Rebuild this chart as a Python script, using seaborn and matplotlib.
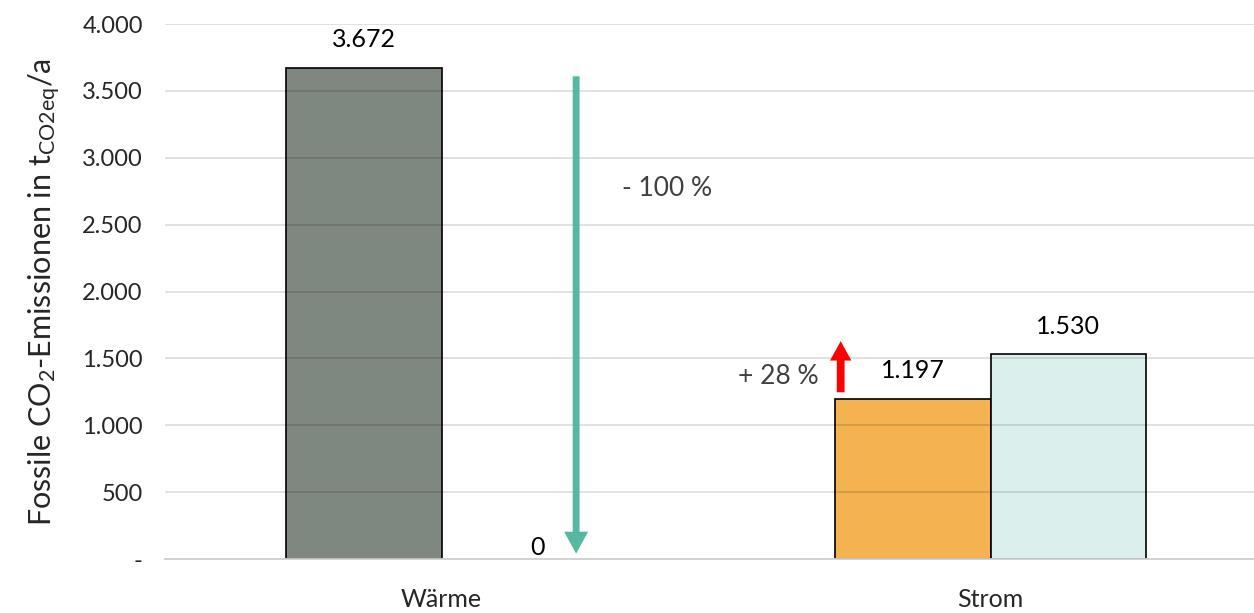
import matplotlib
matplotlib.use("Agg")
import matplotlib.pyplot as plt
import matplotlib.ticker as mticker
from matplotlib.patches import FancyArrowPatch
import pandas as pd
import seaborn as sns

# Emissions per sector, current state vs. scenario
categories = ["Wärme", "Strom"]
scenarios = ["Bestand", "Szenario"]
values_bestand = [3672, 1197]
values_szenario = [0, 1530]

bar_colors = {
    ("Wärme", "Bestand"): "#7f8781",
    ("Wärme", "Szenario"): "#7f8781",
    ("Strom", "Bestand"): "#f4b350",
    ("Strom", "Szenario"): "#dbefec",
}

# change annotations
change_waerme = "- 100 %"
change_strom = "+ 28 %"

y_ticks = [0, 500, 1000, 1500, 2000, 2500, 3000, 3500, 4000]

df = pd.DataFrame({
    "Kategorie": categories * 2,
    "Szenario": [scenarios[0]] * 2 + [scenarios[1]] * 2,
    "Wert": values_bestand + values_szenario,
})

sns.set_theme(style="white")
plt.rcParams["font.family"] = ["Lato", "DejaVu Sans"]
plt.rcParams["mathtext.default"] = "regular"

fig = plt.figure(figsize=(12.54, 6.13), dpi=100)
ax = fig.add_axes([0.1316, 0.088, 0.8684, 0.8728])

sns.barplot(data=df, x="Kategorie", y="Wert", hue="Szenario", order=categories,
            hue_order=scenarios, width=0.567, dodge=True, ax=ax, legend=False,
            errorbar=None, zorder=2)

for container, scen in zip(ax.containers, scenarios):
    for bar, cat in zip(container, categories):
        val = bar.get_height()
        bar.set_facecolor(bar_colors[(cat, scen)])
        bar.set_edgecolor("black")
        bar.set_linewidth(1.2 if val > 0 else 0)
        label = f"{int(round(val)):,}".replace(",", ".")
        cx = bar.get_x() + bar.get_width() / 2
        if val > 0:
            ax.annotate(label, (cx, val), xytext=(0, 12), textcoords="offset points",
                        ha="center", va="bottom", fontsize=18, color="black")
        else:
            ax.annotate(label, (cx, val), xytext=(13, 0), textcoords="offset points",
                        ha="center", va="bottom", fontsize=18, color="black")

ax.set_xlim(-0.504, 1.48)
ax.set_ylim(0, 4000)
ax.set_yticks(y_ticks)
ax.yaxis.set_major_formatter(mticker.FuncFormatter(
    lambda v, _: "-" if v == 0 else f"{int(v):,}".replace(",", ".")))
ax.yaxis.grid(True, color="black", alpha=0.13, linewidth=1.3, zorder=3)
ax.set_axisbelow(False)
for line in ax.get_ygridlines():
    line.set_zorder(3)

ax.tick_params(axis="y", length=0, pad=16, labelsize=17)
ax.tick_params(axis="x", length=0, pad=21, labelsize=18)
for side in ["left", "right", "top"]:
    ax.spines[side].set_visible(False)
ax.spines["bottom"].set_color("#d0d0d0")
ax.spines["bottom"].set_linewidth(1.3)
ax.spines["bottom"].set_zorder(4)

ax.set_xlabel("")
ax.set_ylabel(r"Fossile CO$_2$-Emissionen in t$_{CO2eq}$/a", fontsize=22, labelpad=14)

# decrease arrow for heat
arrow_down = FancyArrowPatch((0.245, 3630), (0.245, 20),
                             arrowstyle="simple,head_length=1.05,head_width=1.15,tail_width=0.33",
                             mutation_scale=15, color="#55b8a0", linewidth=0, zorder=5)
ax.add_patch(arrow_down)
ax.text(0.41, 2774, change_waerme, ha="center", va="center", fontsize=19, color="#404040")

# increase arrow for electricity
arrow_up = FancyArrowPatch((0.727, 1226), (0.727, 1650),
                           arrowstyle="simple,head_length=1.0,head_width=1.1,tail_width=0.4",
                           mutation_scale=14, color="#ff0000", linewidth=0, zorder=5)
ax.add_patch(arrow_up)
ax.text(0.686, 1368, change_strom, ha="right", va="center", fontsize=19, color="#404040")

fig.savefig("out.png", dpi=100)
